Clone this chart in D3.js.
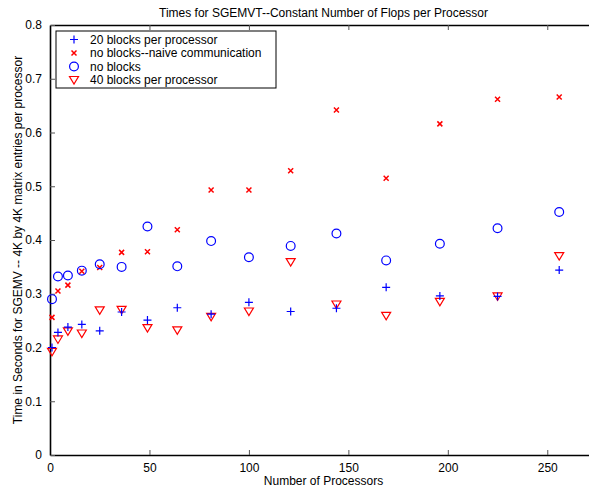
<!DOCTYPE html>
<html>
<head>
<meta charset="utf-8">
<script src="https://cdn.jsdelivr.net/npm/d3@7"></script>
<style>
  html, body { margin: 0; padding: 0; background: #fff; }
  svg { display: block; font-family: "Liberation Sans", Arial, sans-serif; }
</style>
</head>
<body>
<div id="svg-container"></div>
<script>
// data
const processors = [1, 4, 9, 16, 25, 36, 49, 64, 81, 100, 121, 144, 169, 196, 225, 256];
const blocks20 = [0.200, 0.228, 0.238, 0.243, 0.231, 0.266, 0.251, 0.274, 0.262, 0.284, 0.267, 0.273, 0.312, 0.296, 0.295, 0.344];
const naive = [0.256, 0.305, 0.316, 0.342, 0.349, 0.377, 0.378, 0.419, 0.493, 0.493, 0.529, 0.642, 0.515, 0.616, 0.662, 0.666];
const noBlocks = [0.290, 0.332, 0.334, 0.343, 0.355, 0.350, 0.425, 0.351, 0.398, 0.368, 0.389, 0.412, 0.362, 0.393, 0.422, 0.452];
const blocks40 = [0.192, 0.215, 0.230, 0.226, 0.269, 0.270, 0.236, 0.232, 0.257, 0.267, 0.359, 0.280, 0.259, 0.285, 0.295, 0.370];
const xTicks = [0, 50, 100, 150, 200, 250];
const yTicks = [0, 0.1, 0.2, 0.3, 0.4, 0.5, 0.6, 0.7, 0.8];

const seriesNames = ["20 blocks per processor", "no blocks--naive communication", "no blocks", "40 blocks per processor"];
const seriesValues = [blocks20, naive, noBlocks, blocks40];
const seriesMarkers = ["plus", "cross", "circle", "triangle"];
const seriesColors = ["#0000ff", "#ff0000", "#0000ff", "#ff0000"];

const width = 589, height = 487;
const margin = { top: 25, right: -8, bottom: 32, left: 50 };

const svg = d3.select("#svg-container").append("svg")
  .attr("width", width).attr("height", height);

const x = d3.scaleLinear().domain([0, 275]).range([margin.left, width - margin.right]);
const y = d3.scaleLinear().domain([0, 0.8]).range([height - margin.bottom, margin.top]);

// axes (ticks inward, MATLAB-like box)
const tickFmt = d3.format("~g");
svg.append("g")
  .attr("transform", `translate(0,${y(0)})`)
  .call(d3.axisBottom(x).tickValues(xTicks).tickSizeInner(-5).tickSizeOuter(0).tickPadding(8).tickFormat(tickFmt));
svg.append("g")
  .attr("transform", `translate(0,${y(0.8)})`)
  .call(d3.axisTop(x).tickValues(xTicks).tickSizeInner(-5).tickSizeOuter(0).tickFormat(""));
svg.append("g")
  .attr("transform", `translate(${x(0)},0)`)
  .call(d3.axisLeft(y).tickValues(yTicks).tickSizeInner(-5).tickSizeOuter(0).tickPadding(8).tickFormat(tickFmt));

svg.selectAll(".domain").attr("stroke", "#000").attr("stroke-width", 1.6);
svg.selectAll(".tick line").attr("stroke", "#555");
svg.selectAll(".tick text").attr("font-size", 12).attr("fill", "#000")
  .attr("font-family", "Liberation Sans, Arial, sans-serif");

// titles
svg.append("text").attr("x", (x(0) + x(275)) / 2).attr("y", 17)
  .attr("text-anchor", "middle").attr("font-size", 12)
  .text("Times for SGEMVT--Constant Number of Flops per Processor");
svg.append("text").attr("x", (x(0) + x(275)) / 2).attr("y", 485)
  .attr("text-anchor", "middle").attr("font-size", 12)
  .text("Number of Processors");
svg.append("text")
  .attr("transform", `translate(22,${(y(0) + y(0.8)) / 2}) rotate(-90)`)
  .attr("text-anchor", "middle").attr("font-size", 12)
  .text("Time in Seconds for SGEMV -- 4K by 4K matrix entries per processor");

// markers
function drawMarker(g, type, color) {
  if (type === "plus") {
    g.append("path").attr("d", "M-4,0H4M0,-4V4").attr("stroke", color).attr("stroke-width", 1.2).attr("fill", "none");
  } else if (type === "cross") {
    g.append("path").attr("d", "M-2.5,-2.5L2.5,2.5M-2.5,2.5L2.5,-2.5").attr("stroke", color).attr("stroke-width", 1.5).attr("fill", "none");
  } else if (type === "circle") {
    g.append("circle").attr("r", 4.4).attr("stroke", color).attr("stroke-width", 1.2).attr("fill", "none");
  } else {
    g.append("path").attr("d", "M-4.5,-3.5L4.5,-3.5L0,4Z").attr("stroke", color).attr("stroke-width", 1.2).attr("fill", "none");
  }
}

// draw order: triangles under, then plus, cross, circle
[3, 0, 1, 2].forEach(si => {
  const g = svg.append("g");
  g.selectAll("g").data(seriesValues[si]).join("g")
    .attr("transform", (d, i) => `translate(${x(processors[i])},${y(d)})`)
    .each(function () { drawMarker(d3.select(this), seriesMarkers[si], seriesColors[si]); });
});

// legend
const legend = svg.append("g");
legend.append("rect").attr("x", 56).attr("y", 31).attr("width", 220).attr("height", 57)
  .attr("fill", "#fff").attr("stroke", "#000").attr("stroke-width", 1);
const legendY = [39.5, 53, 66.5, 80];
seriesNames.forEach((name, i) => {
  const g = legend.append("g").attr("transform", `translate(74,${legendY[i]})`);
  drawMarker(g, seriesMarkers[i], seriesColors[i]);
  legend.append("text").attr("x", 90).attr("y", legendY[i] + 4).attr("font-size", 12).text(name);
});
</script>
</body>
</html>
